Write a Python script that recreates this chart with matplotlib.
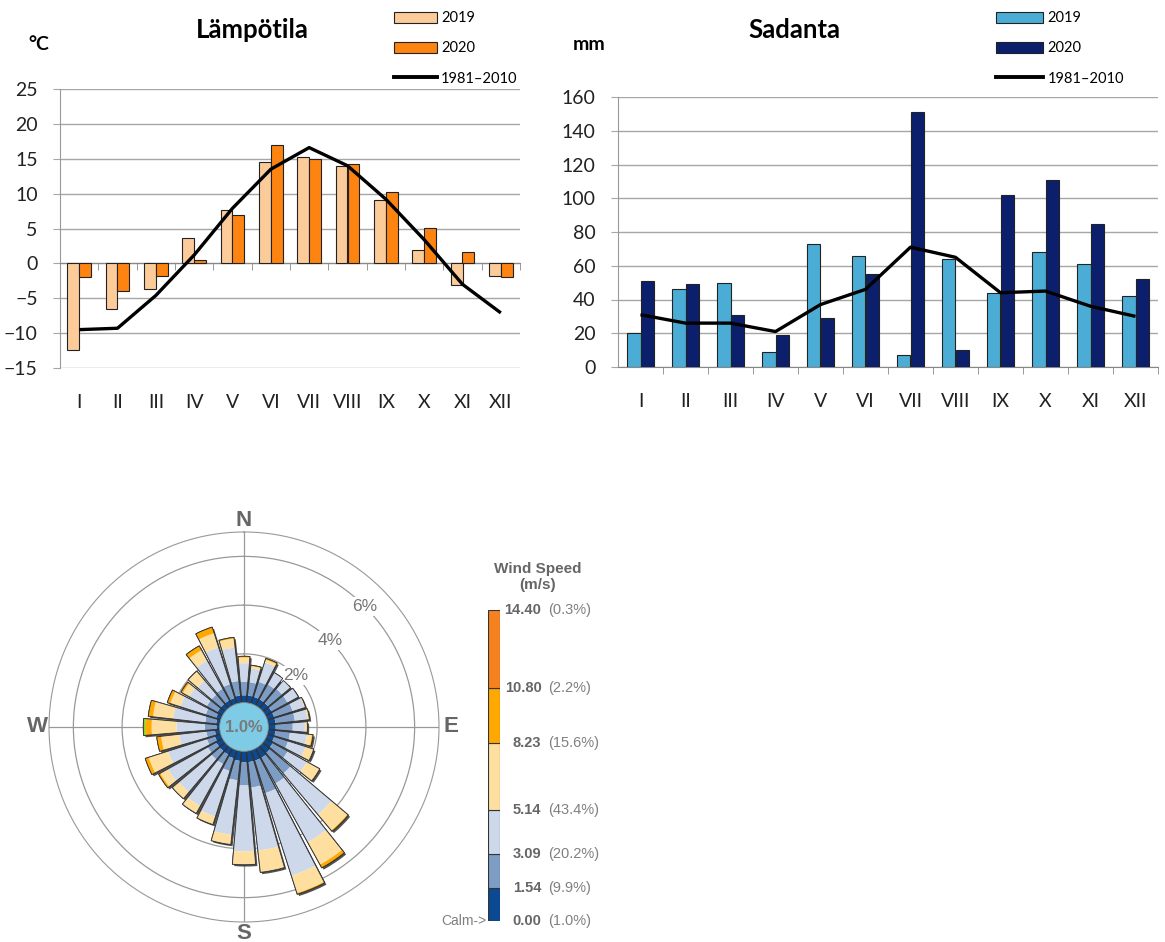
import numpy as np
import matplotlib
matplotlib.use("Agg")
import matplotlib.pyplot as plt
import matplotlib.patheffects as pe
from matplotlib.patches import Patch, Circle
from matplotlib.lines import Line2D

FONT = "Lato"
ROSE_FONT = "Liberation Sans"

months = ["I", "II", "III", "IV", "V", "VI", "VII", "VIII", "IX", "X", "XI", "XII"]

# Lämpötila (°C)
temp_2019 = [-12.4, -6.6, -3.7, 3.6, 7.7, 14.5, 15.2, 13.9, 9.1, 1.9, -3.1, -1.8]
temp_2020 = [-2.0, -3.9, -1.8, 0.5, 6.9, 17.0, 15.0, 14.3, 10.2, 5.1, 1.7, -2.0]
temp_norm = [-9.5, -9.3, -4.6, 1.2, 7.9, 13.5, 16.6, 14.0, 9.2, 3.4, -3.0, -7.1]

# Sadanta (mm)
rain_2019 = [20, 46, 50, 9, 73, 66, 7, 64, 44, 68, 61, 42]
rain_2020 = [51, 49, 31, 19, 29, 55, 151, 10, 102, 111, 85, 52]
rain_norm = [31, 26, 26, 21, 37, 46, 71, 65, 44, 45, 36, 30]

# tuuliruusu, 32 suuntaa (N = 0, myötäpäivään), osuus % nopeusluokittain
n_dir = 32
calm_pct = 1.0
ws_000_154 = [.30, .30, .30, .30, .30, .30, .30, .30, .30, .30, .30, .35, .40, .45, .45, .45,
              .45, .40, .35, .30, .30, .30, .25, .20, .13, .15, .20, .25, .25, .25, .25, .30]
ws_154_309 = [.55, .55, .65, .70, .75, .75, .80, .80, .70, .60, .60, .70, 1.10, 1.20, 1.40, 1.05,
              .95, .80, .55, .45, .45, .40, .35, .35, .48, .45, .45, .50, .50, .55, .60, .60]
ws_309_514 = [.77, .57, .83, .55, .45, .50, .50, .52, .50, .70, .75, .90, 2.20, 2.75, 3.55, 2.60,
              2.70, 2.25, 1.96, 1.95, 1.75, 1.86, 1.67, 1.12, 1.16, 1.32, 1.08, .82, .75, 1.32, 1.58, 1.38]
ws_514_823 = [.23, .10, .12, 0, 0, 0, .05, .08, .10, .20, .35, .60, .85, 1.05, .75, .90,
              .55, .40, .34, .35, .35, .36, .83, .75, 1.02, .84, .44, .30, .50, .48, .61, .37]
ws_823_1080 = [.05, .03, .05, 0, 0, 0, 0, 0, 0, .05, 0, 0, .05, .15, .05, 0,
               0, 0, 0, 0, 0, .08, .15, .18, .23, .19, .13, .08, 0, .20, .26, .05]
ws_1080_1440 = [0, 0, 0, 0, 0, 0, 0, 0, 0, 0, 0, 0, 0, 0, 0, 0,
                0, 0, 0, 0, 0, 0, 0, 0, .03, 0, 0, 0, 0, 0, 0, 0]
ws_over_1440 = [0, 0, 0, 0, 0, 0, 0, 0, 0, 0, 0, 0, 0, 0, 0, 0,
                0, 0, 0, 0, 0, 0, 0, 0, .08, 0, 0, 0, 0, 0, 0, 0]

speed_edges = [0.00, 1.54, 3.09, 5.14, 8.23, 10.80, 14.40]
speed_share = [1.0, 9.9, 20.2, 43.4, 15.6, 2.2, 0.3]
speed_colors = ["#0b4a92", "#7e9dc5", "#cdd9ea", "#fedf9f", "#ffa800", "#f5821f", "#7fe000"]

W, H = 1165, 942
R_MAX = 8.0


def fx(px):
    return px / W


def fy(py):
    return 1 - py / H


def month_chart(ax, v19, v20, norm, c19, c20, ylim, yticks, zero_top):
    x = np.arange(len(months))
    w = 0.31
    ax.bar(x - w / 2, v19, w, color=c19, edgecolor="#222", linewidth=0.8, zorder=3)
    ax.bar(x + w / 2, v20, w, color=c20, edgecolor="#222", linewidth=0.8, zorder=3)
    ax.plot(x, norm, color="black", lw=2.4, zorder=4, solid_capstyle="butt")
    ax.set_xlim(-0.5, len(months) - 0.5)
    ax.set_ylim(*ylim)
    ax.set_yticks(yticks)
    ax.grid(axis="y", color="#a6a6a6", lw=1)
    ax.set_axisbelow(True)
    ax.set_xticks(x)
    ax.set_xticklabels(months)
    ax.set_xticks(np.arange(0.5, len(months), 1), minor=True)
    ax.spines["right"].set_visible(False)
    ax.spines["left"].set_color("#999")
    if zero_top:
        ax.spines["bottom"].set_visible(False)
        ax.spines["top"].set_position(("data", 0))
        ax.spines["top"].set_color("#888")
        ax.tick_params(axis="x", which="minor", bottom=False, top=True,
                       direction="in", length=5, color="#888")
    else:
        ax.spines["top"].set_visible(False)
        ax.spines["bottom"].set_color("#888")
        ax.tick_params(axis="x", which="minor", bottom=True, length=5, color="#888")
    ax.tick_params(axis="x", which="major", length=0, pad=19, labelsize=14, labelcolor="#222")
    ax.tick_params(axis="y", length=5, color="#a6a6a6", pad=11, labelsize=14, labelcolor="#222")
    for t in ax.get_yticklabels() + ax.get_xticklabels():
        t.set_fontfamily(FONT)


def year_legend(c19, c20, x0, hl):
    fig.legend(handles=[Patch(fc=c19, ec="#222", lw=0.8, label="2019"),
                        Patch(fc=c20, ec="#222", lw=0.8, label="2020"),
                        Line2D([], [], color="black", lw=2.8, label="1981–2010")],
               loc="upper left", bbox_to_anchor=(fx(x0), fy(10)), frameon=False, fontsize=10.5,
               handlelength=hl, handleheight=0.75, labelspacing=1.1, handletextpad=0.3,
               borderaxespad=0, borderpad=0.1)


fig = plt.figure(figsize=(W / 100, H / 100), dpi=100)
plt.rcParams["font.family"] = [FONT, "DejaVu Sans"]

# --- Lämpötila
ax1 = fig.add_axes([fx(60), fy(368), fx(460), 279 / H])
month_chart(ax1, temp_2019, temp_2020, temp_norm, "#fccb9a", "#fd8410",
            (-15, 25), range(-15, 26, 5), zero_top=True)
fig.text(fx(252), fy(30), "Lämpötila", ha="center", va="center", fontsize=18.5, weight="bold")
fig.text(fx(39), fy(45), "°C", ha="center", va="center", fontsize=14, weight="bold")
year_legend("#fccb9a", "#fd8410", 393, 2.9)

# --- Sadanta
ax2 = fig.add_axes([fx(618), fy(367), fx(540), 270 / H])
month_chart(ax2, rain_2019, rain_2020, rain_norm, "#4badd6", "#0b1f6d",
            (0, 160), range(0, 161, 20), zero_top=False)
fig.text(fx(794), fy(30), "Sadanta", ha="center", va="center", fontsize=18.5, weight="bold")
fig.text(fx(589), fy(45), "mm", ha="center", va="center", fontsize=14, weight="bold")
year_legend("#4badd6", "#0b1f6d", 995, 3.2)

# --- Tuuliruusu
axw = fig.add_axes([fx(49), fy(922), fx(390), 390 / H], projection="polar")
axw.set_theta_zero_location("N")
axw.set_theta_direction(-1)
theta = np.deg2rad(np.arange(n_dir) * 360 / n_dir)
width = np.deg2rad(360 / n_dir) * 0.86
bins = [ws_000_154, ws_154_309, ws_309_514, ws_514_823, ws_823_1080, ws_1080_1440, ws_over_1440]
total = np.sum(np.array(bins), axis=0)

axw.bar(theta, total, width=width, bottom=calm_pct, color="white", edgecolor="#222", lw=0.7,
        zorder=2, path_effects=[pe.SimplePatchShadow(offset=(1.3, -1.3), shadow_rgbFace="#333",
                                                     alpha=0.85), pe.Normal()])
base = np.full(n_dir, calm_pct)
for vals, col in zip(bins, speed_colors):
    vals = np.array(vals)
    axw.bar(theta, vals, width=width, bottom=base, color=col, lw=0, zorder=3)
    base = base + vals
axw.bar(theta, total, width=width, bottom=calm_pct, fill=False, edgecolor="#333", lw=0.6, zorder=4)

axw.add_patch(Circle((0.5, 0.5), 0.5 * calm_pct / R_MAX, transform=axw.transAxes,
                     fc="#7ecbe6", ec="#888", lw=0.6, zorder=5))
axw.text(0, 0, f"{calm_pct:.1f}%", ha="center", va="center", color="#7a7a7a", fontsize=12,
         weight="bold", family=ROSE_FONT, zorder=6)

axw.set_ylim(0, R_MAX)
axw.set_yticks([calm_pct + 2, calm_pct + 4, calm_pct + 6])
axw.set_yticklabels([])
axw.set_xticks(np.deg2rad([0, 90, 180, 270]))
axw.set_xticklabels(["N", "E", "S", "W"])
axw.tick_params(axis="x", pad=-2, labelsize=16, labelcolor="#666")
for t in axw.get_xticklabels():
    t.set_fontweight("bold")
    t.set_fontfamily(ROSE_FONT)
axw.grid(color="#999", lw=0.9)
axw.set_axisbelow(True)
axw.spines["polar"].set_color("#999")
for p in (2, 4, 6):
    axw.text(np.deg2rad(45), calm_pct + p, f"{p}%", ha="center", va="center", color="#777",
             fontsize=12.5, family=ROSE_FONT, zorder=2.5,
             bbox=dict(fc="white", ec="none", pad=1.5))

# --- nopeusasteikko
axl = fig.add_axes([fx(488), fy(921), fx(12), 311 / H])
axl.bar(0, np.diff(speed_edges), width=1, bottom=speed_edges[:-1], color=speed_colors[:6],
        edgecolor="#333", lw=0.8)
axl.set_xlim(-0.5, 0.5)
axl.set_ylim(0, speed_edges[-1])
axl.axis("off")
tr = axl.get_yaxis_transform()
for e, s in zip(speed_edges, speed_share):
    axl.text(4.45, e, f"{e:.2f}", transform=tr, ha="right", va="center", fontsize=10.5,
             weight="bold", color="#666", family=ROSE_FONT)
    axl.text(5.0, e, f"({s:.1f}%)", transform=tr, ha="left", va="center", fontsize=10.5,
             color="#808080", family=ROSE_FONT)
axl.text(-0.1, 0, "Calm->", transform=tr, ha="right", va="center", fontsize=10,
         color="#808080", family=ROSE_FONT)
fig.text(fx(538), fy(577), "Wind Speed\n(m/s)", ha="center", va="center", fontsize=11,
         weight="bold", color="#666", family=ROSE_FONT, linespacing=1.25)

fig.savefig("out.png", dpi=100, facecolor="white")
